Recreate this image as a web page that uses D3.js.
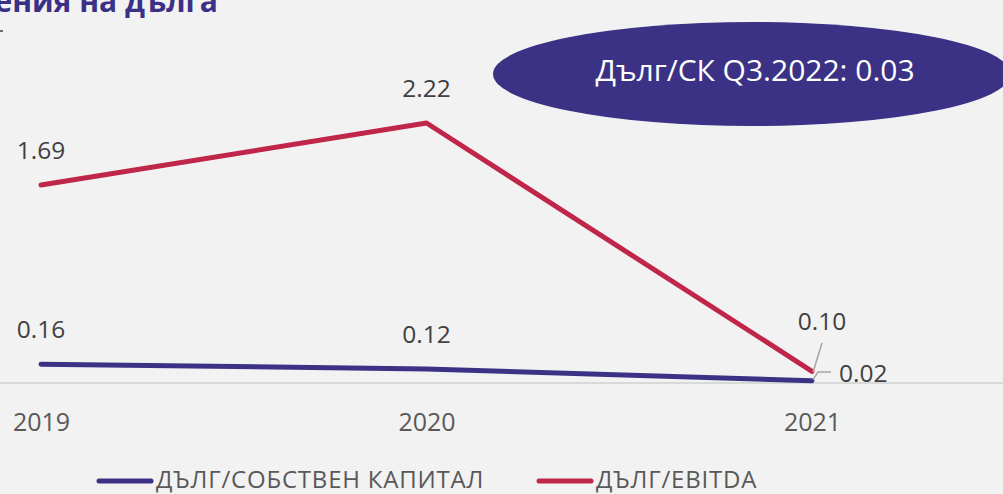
<!DOCTYPE html>
<html>
<head>
<meta charset="utf-8">
<script src="https://cdn.jsdelivr.net/npm/d3@7"></script>
<style>
  html, body { margin: 0; padding: 0; background: #f2f2f2; }
  svg { display: block; font-family: 'Open Sans', sans-serif; }
</style>
</head>
<body>
<div class="chart"></div>
<script>
const years = ['2019', '2020', '2021'];
const debtEquity = [0.16, 0.12, 0.02];
const debtEbitda = [1.69, 2.22, 0.10];
const seriesNames = ['ДЪЛГ/СОБСТВЕН КАПИТАЛ', 'ДЪЛГ/EBITDA'];
const calloutText = 'Дълг/СК Q3.2022: 0.03';
const titleText = 'Съотношения на дълга';

const width = 1003;
const height = 494;
const blue = '#3b3286';
const red = '#c0254a';

const svg = d3.select('.chart')
  .append('svg')
  .attr('width', width)
  .attr('height', height);

const x = d3.scalePoint()
  .domain(years)
  .range([41, 812]);

const y = d3.scaleLinear()
  .domain([0, 2.22])
  .range([383, 123]);

// title, cut at the top edge
svg.append('text')
  .attr('x', 218)
  .attr('y', 12)
  .attr('text-anchor', 'end')
  .attr('font-size', '30px')
  .attr('font-weight', 'bold')
  .attr('fill', '#3a3186')
  .text(titleText);

svg.append('line')
  .attr('x1', 0).attr('x2', 3)
  .attr('y1', 31).attr('y2', 31)
  .attr('stroke', '#404040')
  .attr('stroke-width', 1.5);

// axis line
svg.append('line')
  .attr('x1', 0).attr('x2', width)
  .attr('y1', y(0)).attr('y2', y(0))
  .attr('stroke', '#d9d9d9')
  .attr('stroke-width', 2);

const xAxis = svg.append('g')
  .attr('transform', `translate(0, ${y(0)})`)
  .call(d3.axisBottom(x).tickSize(0).tickPadding(0));
xAxis.select('.domain').remove();
xAxis.selectAll('text')
  .attr('dy', null)
  .attr('y', 48)
  .attr('font-size', '25px')
  .attr('font-family', "'Open Sans', sans-serif")
  .attr('fill', '#595959');

const line = d3.line()
  .x((d, i) => x(years[i]))
  .y((d) => y(d));

[[debtEquity, blue], [debtEbitda, red]].forEach(([vals, color]) => {
  svg.append('path')
    .datum(vals)
    .attr('d', line)
    .attr('fill', 'none')
    .attr('stroke', color)
    .attr('stroke-width', 5)
    .attr('stroke-linecap', 'round')
    .attr('stroke-linejoin', 'round');
});

// data labels
const labelFont = '24.5px';
const labelColor = '#404040';
const addLabel = (lx, ly, txt, anchor = 'middle') => svg.append('text')
  .attr('x', lx).attr('y', ly)
  .attr('text-anchor', anchor)
  .attr('font-size', labelFont)
  .attr('fill', labelColor)
  .text(txt);

[debtEbitda, debtEquity].forEach((vals) => {
  vals.slice(0, 2).forEach((v, i) => addLabel(x(years[i]), y(v) - 26, v.toFixed(2)));
});

// leader lines for the last points
const lx = x(years[2]);
addLabel(lx + 10, 330, debtEbitda[2].toFixed(2));
svg.append('line')
  .attr('x1', lx + 10).attr('y1', 343)
  .attr('x2', lx + 1).attr('y2', y(debtEbitda[2]) + 1)
  .attr('stroke', '#a6a6a6').attr('stroke-width', 1.5);
svg.append('path')
  .attr('d', `M${lx + 19},372 L${lx + 6},372 L${lx + 1},${y(debtEquity[2]) - 1}`)
  .attr('fill', 'none')
  .attr('stroke', '#a6a6a6').attr('stroke-width', 1.5);
addLabel(lx + 27, 382, debtEquity[2].toFixed(2), 'start');

// callout ellipse
svg.append('ellipse')
  .attr('cx', 752).attr('cy', 74)
  .attr('rx', 259).attr('ry', 52)
  .attr('fill', blue);
svg.append('text')
  .attr('x', 755).attr('y', 81)
  .attr('text-anchor', 'middle')
  .attr('font-size', '30px')
  .attr('fill', '#ffffff')
  .text(calloutText);

// legend
const legend = svg.append('g').attr('transform', 'translate(0, 481)');
const legendPos = [97, 537];
seriesNames.forEach((name, i) => {
  const g = legend.append('g').attr('transform', `translate(${legendPos[i]}, 0)`);
  g.append('line')
    .attr('x1', 2).attr('x2', 54)
    .attr('y1', 0).attr('y2', 0)
    .attr('stroke', i === 0 ? blue : red)
    .attr('stroke-width', 5)
    .attr('stroke-linecap', 'round');
  g.append('text')
    .attr('x', 59).attr('y', 7)
    .attr('font-size', '24px')
    .attr('letter-spacing', '0.8px')
    .attr('fill', '#595959')
    .text(name);
});
</script>
</body>
</html>
